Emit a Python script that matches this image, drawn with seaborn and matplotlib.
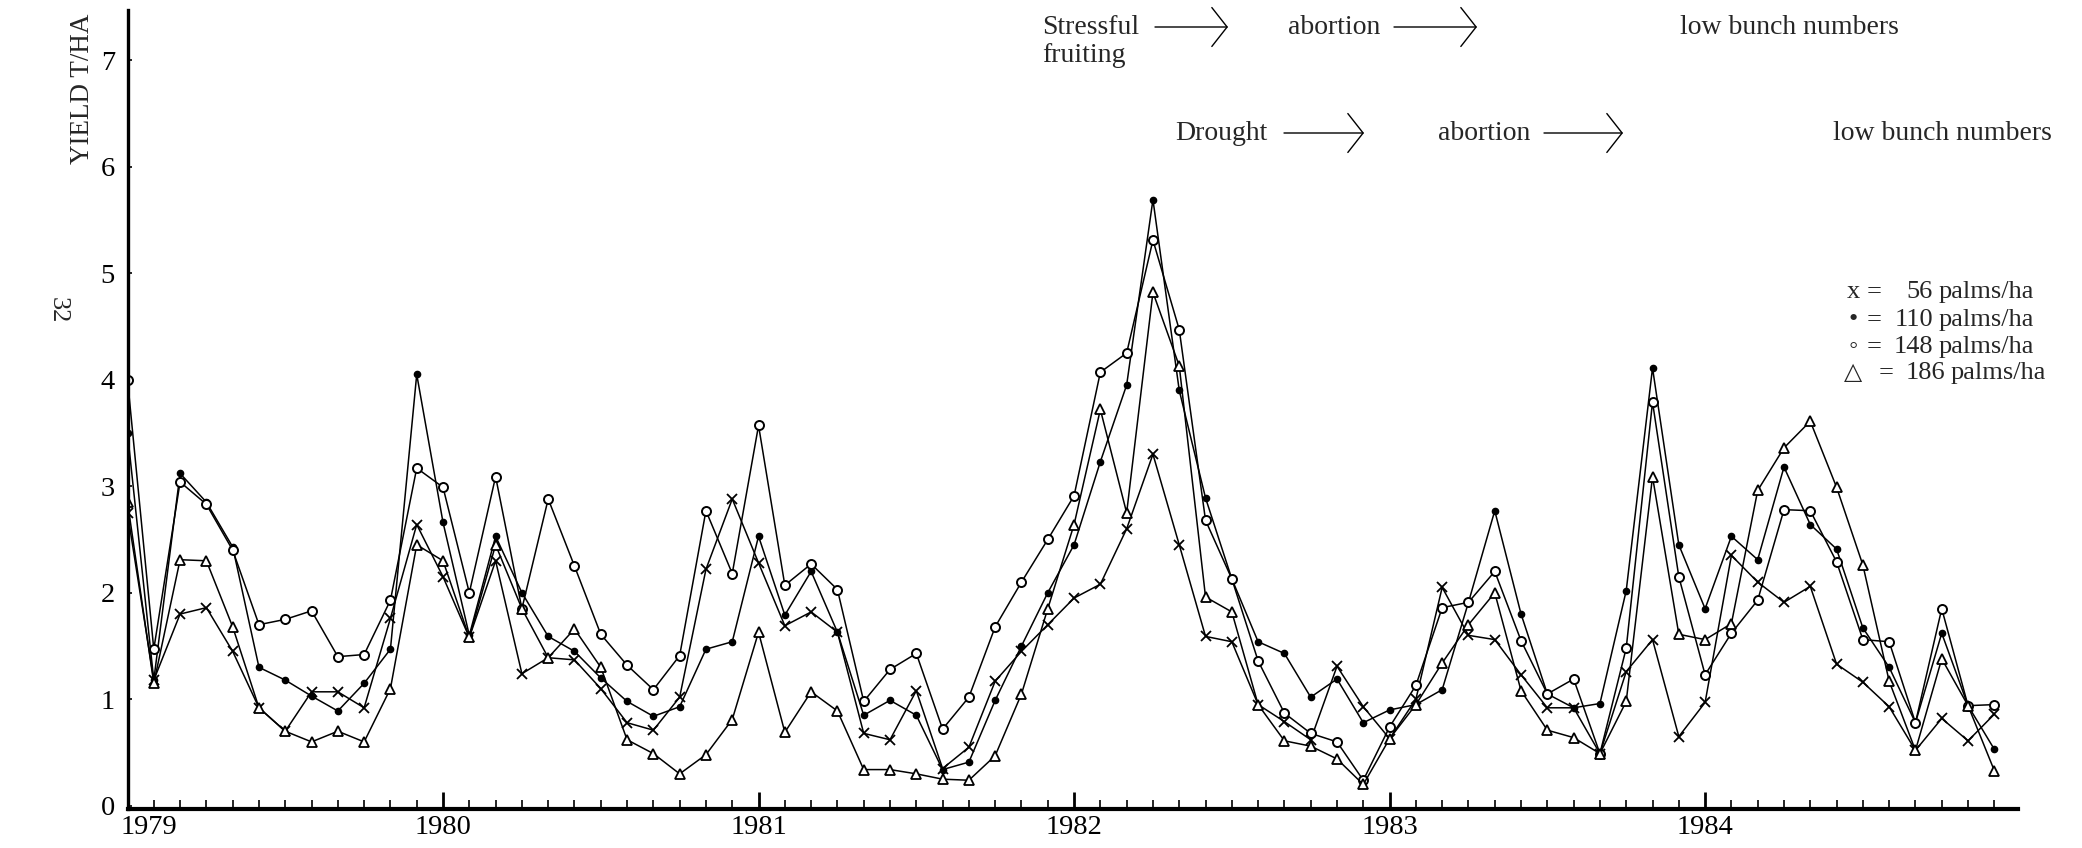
import numpy as np
import pandas as pd
import matplotlib
matplotlib.use("Agg")
import matplotlib.pyplot as plt
import seaborn as sns
from matplotlib.transforms import ScaledTranslation

# ---------------- data (monthly yields, Jan 1979 .. Dec 1984) ----------------
months = list(range(72))
year_labels = ["1979", "1980", "1981", "1982", "1983", "1984"]
y_ticks = [0, 1, 2, 3, 4, 5, 6, 7]

yield_56 = [2.75, 1.18, 1.80, 1.86, 1.45, 0.92, 0.70, 1.07, 1.07, 0.92, 1.76, 2.64,
            2.15, 1.58, 2.30, 1.24, 1.39, 1.37, 1.10, 0.78, 0.71, 1.02, 2.22, 2.88,
            2.28, 1.69, 1.82, 1.63, 0.68, 0.62, 1.08, 0.35, 0.55, 1.17, 1.45, 1.70,
            1.95, 2.08, 2.60, 3.30, 2.45, 1.59, 1.54, 0.95, 0.79, 0.62, 1.31, 0.93,
            0.63, 1.00, 2.05, 1.60, 1.56, 1.23, 0.92, 0.92, 0.49, 1.26, 1.56, 0.65,
            0.97, 2.35, 2.10, 1.91, 2.06, 1.33, 1.16, 0.93, 0.52, 0.82, 0.61, 0.86]
yield_110 = [3.50, 1.18, 3.12, 2.85, 2.43, 1.30, 1.18, 1.03, 0.89, 1.15, 1.47, 4.05,
             2.66, 1.60, 2.53, 2.00, 1.59, 1.45, 1.20, 0.98, 0.84, 0.93, 1.47, 1.54,
             2.53, 1.79, 2.20, 1.63, 0.85, 0.99, 0.85, 0.34, 0.41, 0.99, 1.50, 2.00,
             2.45, 3.23, 3.95, 5.69, 3.90, 2.89, 2.13, 1.54, 1.43, 1.02, 1.19, 0.78,
             0.90, 0.95, 1.09, 1.91, 2.77, 1.80, 1.05, 0.92, 0.96, 2.02, 4.11, 2.45,
             1.85, 2.53, 2.31, 3.18, 2.64, 2.41, 1.67, 1.30, 0.78, 1.62, 0.94, 0.53]
yield_148 = [4.00, 1.47, 3.04, 2.83, 2.40, 1.70, 1.75, 1.83, 1.40, 1.42, 1.93, 3.17,
             2.99, 2.00, 3.09, 1.85, 2.88, 2.25, 1.61, 1.32, 1.09, 1.41, 2.77, 2.18,
             3.57, 2.07, 2.27, 2.03, 0.98, 1.28, 1.43, 0.72, 1.02, 1.68, 2.10, 2.50,
             2.91, 4.07, 4.25, 5.31, 4.47, 2.68, 2.13, 1.36, 0.87, 0.68, 0.60, 0.24,
             0.74, 1.13, 1.86, 1.91, 2.20, 1.55, 1.05, 1.19, 0.49, 1.48, 3.79, 2.15,
             1.23, 1.62, 1.93, 2.78, 2.77, 2.29, 1.56, 1.54, 0.78, 1.85, 0.94, 0.95]
yield_186 = [2.85, 1.15, 2.31, 2.30, 1.68, 0.92, 0.70, 0.60, 0.70, 0.60, 1.10, 2.45,
             2.30, 1.58, 2.45, 1.85, 1.39, 1.66, 1.30, 0.62, 0.49, 0.30, 0.48, 0.81,
             1.63, 0.69, 1.07, 0.89, 0.34, 0.34, 0.30, 0.25, 0.24, 0.47, 1.05, 1.85,
             2.64, 3.72, 2.75, 4.82, 4.13, 1.96, 1.82, 0.95, 0.61, 0.56, 0.44, 0.20,
             0.63, 0.95, 1.34, 1.70, 2.00, 1.08, 0.71, 0.64, 0.49, 0.98, 3.09, 1.61,
             1.56, 1.71, 2.96, 3.36, 3.61, 2.99, 2.26, 1.17, 0.52, 1.38, 0.94, 0.33]

# ---------------- style ----------------
sns.set_theme(style="ticks")
plt.rcParams["font.family"] = ["Liberation Serif", "DejaVu Sans"]
plt.rcParams["axes.unicode_minus"] = False

W, H = 2082, 848
fig = plt.figure(figsize=(W / 100, H / 100), dpi=100)
fig.patch.set_facecolor("white")

ax_left, ax_right, ax_top, ax_bottom = 127.5, 2018, 10, 809
ax = fig.add_axes([ax_left / W, 1 - ax_bottom / H,
                   (ax_right - ax_left) / W, (ax_bottom - ax_top) / H])
ax.set_facecolor("white")

df = pd.DataFrame({"month": months, "y56": yield_56, "y110": yield_110,
                   "y148": yield_148, "y186": yield_186})

series_styles = [
    ("y56", dict(marker="x", markersize=7, markeredgewidth=1.3,
                 markerfacecolor="black", markeredgecolor="black")),
    ("y110", dict(marker="o", markersize=4.5, markeredgewidth=1.0,
                  markerfacecolor="black", markeredgecolor="black")),
    ("y148", dict(marker="o", markersize=6.5, markeredgewidth=1.4,
                  markerfacecolor="white", markeredgecolor="black")),
    ("y186", dict(marker="^", markersize=7, markeredgewidth=1.3,
                  markerfacecolor="white", markeredgecolor="black")),
]
for col, st in series_styles:
    sns.lineplot(data=df, x="month", y=col, ax=ax, color="black",
                 linewidth=1.1, legend=False, **st)

ax.set_xlim(0, 71.9)
ax.set_ylim(-0.03, 7.47)
ax.set_xlabel("")
ax.set_ylabel("")

# spines
for s in ["top", "right"]:
    ax.spines[s].set_visible(False)
ax.spines["bottom"].set_linewidth(3.0)
ax.spines["left"].set_linewidth(2.4)
ax.spines["bottom"].set_color("black")
ax.spines["left"].set_color("black")

# x ticks
major_pos = [12 * k for k in range(len(year_labels))]
ax.set_xticks(major_pos)
ax.set_xticklabels(year_labels, fontsize=20.5)
ax.set_xticks([m for m in months if m % 12 != 0], minor=True)
ax.tick_params(axis="x", which="major", direction="in", length=12, width=2.0,
               pad=4, colors="black")
ax.tick_params(axis="x", which="minor", direction="in", length=6.5, width=1.2,
               colors="black")
lbl0 = ax.get_xticklabels()[0]
lbl0.set_transform(lbl0.get_transform() + ScaledTranslation(0.21, 0, fig.dpi_scale_trans))

# y ticks
ax.set_yticks(y_ticks)
ax.set_yticklabels([str(v) for v in y_ticks], fontsize=20.5)
ax.tick_params(axis="y", direction="in", length=3, width=1.2, pad=9, colors="black")

ax.set_ylabel("YIELD T/HA", loc="top", fontsize=19.5)
ax.yaxis.set_label_coords(-0.017, 0.996)

# page number
fig.text(58 / W, 1 - 310 / H, "32", rotation=-90, fontsize=19,
         ha="center", va="center")

# ---------------- annotations at top ----------------
def ftext(x, y, s, **kw):
    fig.text(x / W, 1 - y / H, s, fontsize=20, va="center", ha="left", **kw)

def farrow(x0, x1, y):
    ax.annotate("", xy=(x1, H - y), xytext=(x0, H - y), xycoords="figure pixels",
                textcoords="figure pixels", annotation_clip=False,
                arrowprops=dict(arrowstyle="->,head_length=0.55,head_width=0.7",
                                mutation_scale=20, lw=1.0, color="black",
                                shrinkA=0, shrinkB=0))

ftext(1042, 27, "Stressful")
ftext(1042, 56, "fruiting")
farrow(1155, 1228, 27)
ftext(1288, 27, "abortion")
farrow(1394, 1477, 27)
ftext(1680, 27, "low bunch numbers")

ftext(1175, 133, "Drought")
farrow(1284, 1364, 133)
ftext(1438, 133, "abortion")
farrow(1544, 1623, 133)
ftext(1833, 133, "low bunch numbers")

# ---------------- text legend ----------------
legend_symbols = ["x", "\u2022", "\u25e6", "\u25b3"]
legend_numbers = ["56", "110", "148", "186"]
legend_y = [292, 320, 347, 373]
for k, (sym, num, yy) in enumerate(zip(legend_symbols, legend_numbers, legend_y)):
    extra = 12 if k == 3 else 0
    fig.text(1853 / W, 1 - yy / H, sym, fontsize=19 if k != 3 else 17,
             ha="center", va="center")
    fig.text((1867 + extra) / W, 1 - yy / H, "=", fontsize=19, ha="left", va="center")
    fig.text((1933 + extra) / W, 1 - yy / H, num, fontsize=19, ha="right", va="center")
    fig.text((1939 + extra) / W, 1 - yy / H, "palms/ha", fontsize=19, ha="left",
             va="center")

fig.savefig("out.png", dpi=100, facecolor="white")
